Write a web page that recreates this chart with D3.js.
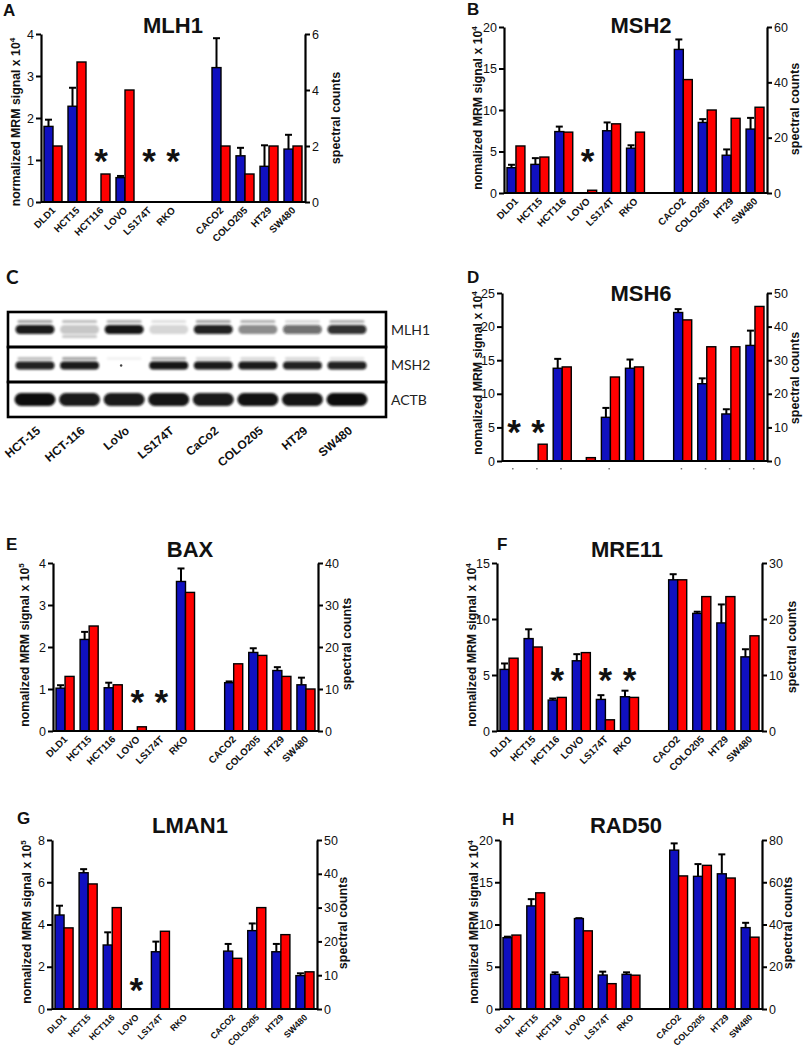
<!DOCTYPE html>
<html><head><meta charset="utf-8">
<script src="https://cdn.jsdelivr.net/npm/d3@7"></script>
<style>body{margin:0;background:#fff}svg{display:block}</style>
</head><body>
<svg id="fig" width="804" height="1050"></svg>
<script>
// ---------- data ----------
const categories = ["DLD1","HCT15","HCT116","LOVO","LS174T","RKO","CACO2","COLO205","HT29","SW480"];
const gapKey = "_gap";
const slots = ["DLD1","HCT15","HCT116","LOVO","LS174T","RKO",gapKey,"CACO2","COLO205","HT29","SW480"];

// MLH1 (A)
const mlh1Mrm    = [1.80, 2.28, 0,    0.58, 0,    0,    3.20, 1.10, 0.85, 1.26];
const mlh1Err    = [1.96, 2.72, null, 0.62, null, null, 3.90, 1.29, 1.35, 1.60];
const mlh1Counts = [2, 5, 1, 4, 0, 0, 2, 1, 2, 2];
const mlh1Stars  = ["HCT116","LS174T","RKO"];
// MSH2 (B)
const msh2Mrm    = [3.05, 3.45, 7.40, 0,    7.50, 5.40, 17.3, 8.50, 4.55, 7.70];
const msh2Err    = [3.40, 4.20, 8.00, null, 8.50, 5.75, 18.5, 8.90, 5.25, 9.05];
const msh2Counts = [17, 13, 22, 1, 25, 22, 41, 30, 27, 31];
const msh2Stars  = ["LOVO"];
// MSH6 (D)
const msh6Mrm    = [0,    0,    13.8, 0,    6.5, 13.8, 22.1, 11.5, 7.0, 17.2];
const msh6Err    = [null, null, 15.2, null, 7.9, 15.1, 22.6, 12.3, 7.7, 19.4];
const msh6Counts = [0, 5, 28, 1, 25, 28, 42, 34, 34, 46];
const msh6Stars  = ["DLD1","HCT15"];
const msh6Marks  = ["DLD1","HCT15","HCT116","LS174T","CACO2","COLO205","HT29","SW480"];
// BAX (E)
const baxMrm     = [1.02, 2.18, 1.03, 0,    0,    3.56, 1.15, 1.87, 1.44, 1.10];
const baxErr     = [1.09, 2.36, 1.15, null, null, 3.87, 1.18, 1.97, 1.52, 1.27];
const baxCounts  = [13, 25, 11, 1, 0, 33, 16, 18, 13, 10];
const baxStars   = ["LOVO","LS174T"];
// MRE11 (F)
const mre11Mrm    = [5.50, 8.25, 2.76, 6.27, 2.82, 3.06, 13.5, 10.5, 9.65, 6.62];
const mre11Err    = [6.03, 9.08, 2.90, 6.86, 3.20, 3.60, 14.0, 10.65, 11.3, 7.30];
const mre11Counts = [13, 15, 6, 14, 2, 6, 27, 24, 24, 17];
const mre11Stars  = ["HCT116","LS174T","RKO"];
// LMAN1 (G)
const lman1Mrm    = [4.45, 6.45, 3.03, 0,    2.71, 0,    2.74, 3.71, 2.71, 1.58];
const lman1Err    = [4.89, 6.62, 3.63, null, 3.19, null, 3.08, 4.05, 3.08, 1.69];
const lman1Counts = [24, 37, 30, 0, 23, 0, 15, 30, 22, 11];
const lman1Stars  = ["LOVO"];
// RAD50 (H)
const rad50Mrm    = [8.44, 12.2, 4.10, 10.7, 4.02, 4.10, 18.8, 15.7, 16.0, 9.63];
const rad50Err    = [8.56, 13.0, 4.34, 10.75, 4.42, 4.34, 19.6, 17.15, 18.3, 10.2];
const rad50Counts = [35, 55, 15, 37, 12, 16, 63, 68, 62, 34];
const rad50Stars  = [];

// Western blot (C)
const blotLanes  = ["HCT-15","HCT-116","LoVo","LS174T","CaCo2","COLO205","HT29","SW480"];
const blotRows   = ["MLH1","MSH2","ACTB"];
const mlh1Band   = [0.95, 0.22, 0.97, 0.16, 0.92, 0.45, 0.6, 0.85];
const mlh1Upper  = [0.35, 0.25, 0.30, 0.12, 0.35, 0.3, 0.15, 0.3];
const mlh1Lower  = [0, 0.22, 0, 0, 0, 0, 0, 0];
const msh2Band   = [0.92, 0.95, 0.0, 0.97, 0.95, 0.95, 0.92, 0.92];
const msh2Upper  = [0.25, 0.35, 0.05, 0.3, 0.15, 0.15, 0.15, 0.1];
const actbBand   = [1.0, 0.95, 0.95, 0.97, 0.95, 0.98, 0.97, 1.0];

// ---------- drawing ----------
const svg = d3.select("#fig");
const FONT = "'Liberation Sans', Arial, sans-serif";
const BLUE = "#1010c0", RED = "#ff0000";

const panels = [
  {tag:"A", title:"MLH1", mrm:mlh1Mrm, err:mlh1Err, counts:mlh1Counts, stars:mlh1Stars, starAt:1.1,
   left:[0,4], lt:[0,1,2,3,4], right:[0,6], rt:[0,2,4,6], exp:"4", word:"normalized",
   x0:41, x1:305, y0:34, y1:202, tx:173, ty:33, lx:3, ly:16, ylx:20, yly:122, rlx:340, rly:118, labels:true, ls:9.8},
  {tag:"B", title:"MSH2", mrm:msh2Mrm, err:msh2Err, counts:msh2Counts, stars:msh2Stars, starAt:4.5,
   left:[0,20], lt:[0,5,10,15,20], right:[0,60], rt:[0,20,40,60], exp:"4", word:"nomalized",
   x0:504, x1:767, y0:27, y1:193, tx:641, ty:33, lx:467, ly:15, ylx:482, yly:108, rlx:799, rly:109, labels:true, ls:9.8},
  {tag:"D", title:"MSH6", mrm:msh6Mrm, err:msh6Err, counts:msh6Counts, stars:msh6Stars, starAt:5,
   left:[0,25], lt:[0,5,10,15,20,25], right:[0,50], rt:[0,10,20,30,40,50], exp:"4", word:"nomalized",
   x0:502, x1:767, y0:293, y1:461, tx:641, ty:301, lx:467, ly:283, ylx:482, yly:373, rlx:799, rly:378, labels:false, marks:msh6Marks},
  {tag:"E", title:"BAX", mrm:baxMrm, err:baxErr, counts:baxCounts, stars:baxStars, starAt:0.82,
   left:[0,4], lt:[0,1,2,3,4], right:[0,40], rt:[0,10,20,30,40], exp:"5", word:"nomalized",
   x0:53, x1:318, y0:563, y1:731, tx:190, ty:557, lx:6, ly:550, ylx:29, yly:645, rlx:351, rly:644, labels:true, ls:9.8},
  {tag:"F", title:"MRE11", mrm:mre11Mrm, err:mre11Err, counts:mre11Counts, stars:mre11Stars, starAt:5,
   left:[0,15], lt:[0,5,10,15], right:[0,30], rt:[0,10,20,30], exp:"4", word:"nomalized",
   x0:497, x1:762, y0:563, y1:731, tx:627, ty:557, lx:497, ly:550, ylx:476, yly:645, rlx:796, rly:647, labels:true, ls:9.8},
  {tag:"G", title:"LMAN1", mrm:lman1Mrm, err:lman1Err, counts:lman1Counts, stars:lman1Stars, starAt:1.14,
   left:[0,8], lt:[0,2,4,6,8], right:[0,50], rt:[0,10,20,30,40,50], exp:"5", word:"nomalized",
   x0:52, x1:317, y0:840, y1:1009, tx:190, ty:833, lx:17, ly:824, ylx:31, yly:922, rlx:347, rly:923, labels:true, ls:8.8},
  {tag:"H", title:"RAD50", mrm:rad50Mrm, err:rad50Err, counts:rad50Counts, stars:rad50Stars, starAt:0,
   left:[0,20], lt:[0,5,10,15,20], right:[0,80], rt:[0,20,40,60,80], exp:"4", word:"nomalized",
   x0:500, x1:762, y0:840, y1:1009, tx:626, ty:833, lx:502, ly:825, ylx:478, yly:922, rlx:792, rly:923, labels:true, ls:8.8}
];

function drawPanel(p) {
  const g = svg.append("g");
  const x = d3.scaleBand().domain(slots).range([p.x0, p.x1]).paddingInner(0.25).paddingOuter(0.125);
  const xs = d3.scaleBand().domain(["mrm","counts"]).range([0, x.bandwidth()]);
  const y = d3.scaleLinear().domain(p.left).range([p.y1, p.y0]);
  const yr = d3.scaleLinear().domain(p.right).range([p.y1, p.y0]);
  const rows = categories.map((c,i)=>({c, m:p.mrm[i], e:p.err[i], n:p.counts[i]}));

  const eb = g.append("g").attr("stroke","#000").attr("stroke-width",2);
  rows.filter(d=>d.m>0 && d.e!=null && d.e>d.m).forEach(d=>{
    const cx = x(d.c) + xs("mrm") + xs.bandwidth()/2;
    eb.append("line").attr("x1",cx).attr("x2",cx).attr("y1",y(d.m)).attr("y2",y(d.e));
    eb.append("line").attr("x1",cx-3.5).attr("x2",cx+3.5).attr("y1",y(d.e)).attr("y2",y(d.e));
  });

  g.append("g").selectAll("rect").data(rows.filter(d=>d.m>0)).join("rect")
    .attr("x",d=>x(d.c)+xs("mrm")).attr("width",xs.bandwidth())
    .attr("y",d=>y(d.m)).attr("height",d=>p.y1-y(d.m))
    .attr("fill",BLUE).attr("stroke","#000").attr("stroke-width",1.4);
  g.append("g").selectAll("rect").data(rows.filter(d=>d.n>0)).join("rect")
    .attr("x",d=>x(d.c)+xs("counts")).attr("width",xs.bandwidth())
    .attr("y",d=>yr(d.n)).attr("height",d=>p.y1-yr(d.n))
    .attr("fill",RED).attr("stroke","#000").attr("stroke-width",1.4);

  const fmt = d3.format("d");
  const ax = g.append("g").attr("transform",`translate(${p.x0},0)`)
    .call(d3.axisLeft(y).tickValues(p.lt).tickFormat(fmt).tickSize(5).tickSizeOuter(0).tickPadding(2));
  const axr = g.append("g").attr("transform",`translate(${p.x1},0)`)
    .call(d3.axisRight(yr).tickValues(p.rt).tickFormat(fmt).tickSize(5).tickSizeOuter(0).tickPadding(2));
  [ax,axr].forEach(a=>{
    a.select(".domain").attr("stroke","#000").attr("stroke-width",2.2);
    a.selectAll(".tick line").attr("stroke","#000").attr("stroke-width",2);
    a.selectAll(".tick text").attr("font-family",FONT).attr("font-size",12.5).attr("fill","#111");
  });
  g.append("line").attr("x1",p.x0).attr("x2",p.x1).attr("y1",p.y1).attr("y2",p.y1)
    .attr("stroke","#000").attr("stroke-width",2.2);

  if (p.labels) {
    g.append("g").selectAll("text").data(categories).join("text")
      .attr("transform",d=>`translate(${x(d)+x.bandwidth()/2+3},${p.y1+9}) rotate(-45)`)
      .attr("text-anchor","end").attr("font-family",FONT).attr("font-weight","bold")
      .attr("font-size",p.ls).attr("fill","#111").text(d=>d);
  }
  if (p.marks) {
    g.append("g").selectAll("rect").data(p.marks).join("rect")
      .attr("x",d=>x(d)+x.bandwidth()/2-2).attr("y",p.y1+7).attr("width",1.5).attr("height",1.5)
      .attr("fill","#777");
  }
  g.append("g").selectAll("text").data(p.stars).join("text")
    .attr("x",d=>x(d)+x.bandwidth()/2).attr("y",y(p.starAt)+17)
    .attr("text-anchor","middle").attr("font-family",FONT).attr("font-weight","bold")
    .attr("font-size",35).attr("fill","#111").text("*");

  g.append("text").attr("x",p.tx).attr("y",p.ty).attr("text-anchor","middle")
    .attr("font-family",FONT).attr("font-weight","bold").attr("font-size",22).attr("fill","#111").text(p.title);
  g.append("text").attr("x",p.lx).attr("y",p.ly).attr("font-family",FONT).attr("font-weight","bold")
    .attr("font-size",17).attr("fill","#111").text(p.tag);
  const yl = g.append("text").attr("transform",`translate(${p.ylx},${p.yly}) rotate(-90)`)
    .attr("text-anchor","middle").attr("font-family",FONT).attr("font-weight","bold")
    .attr("font-size",12.3).attr("fill","#111");
  yl.append("tspan").text(p.word + " MRM signal x 10");
  yl.append("tspan").attr("dy",-5).attr("font-size",8).text(p.exp);
  g.append("text").attr("transform",`translate(${p.rlx},${p.rly}) rotate(-90)`)
    .attr("text-anchor","middle").attr("font-family",FONT).attr("font-weight","bold")
    .attr("font-size",12.5).attr("fill","#111").text("spectral counts");
}
panels.forEach(drawPanel);

const defs = svg.append("defs");
defs.append("clipPath").attr("id","gclip").append("rect").attr("x",371).attr("y",840).attr("width",40).attr("height",150);
svg.append("text").attr("clip-path","url(#gclip)")
  .attr("transform","translate(385,913) rotate(-90)").attr("text-anchor","middle")
  .attr("font-family","Lato, sans-serif").attr("font-size",17).attr("fill","#222").text("spectral Counts");

// ---------- Western blot (C) ----------
const blur = defs.append("filter").attr("id","blur").attr("x","-20%").attr("y","-60%").attr("width","140%").attr("height","220%");
blur.append("feGaussianBlur").attr("stdDeviation",1.1);
const box = {x0:8, x1:386, y0:312, y1:417};
const lane = d3.scalePoint().domain(blotLanes).range([35, 347]);
const rowY = d3.scaleBand().domain(blotRows).range([box.y0, box.y1]).padding(0);
const bandW = 39;
const gb = svg.append("g");
function bands(arr, row, offset, h, wScale) {
  gb.append("g").attr("filter","url(#blur)").selectAll("rect").data(blotLanes.map((l,i)=>({l,v:arr[i]})).filter(d=>d.v>0)).join("rect")
    .attr("x",d=>lane(d.l)-bandW*wScale/2).attr("width",bandW*wScale)
    .attr("y",rowY(row)+rowY.bandwidth()/2+offset-h/2).attr("height",h)
    .attr("rx",h/2).attr("fill","#0d0d0d").attr("opacity",d=>d.v);
}
bands(mlh1Upper,"MLH1",-8,3,0.9);
bands(mlh1Band,"MLH1",0,9,1);
bands(mlh1Lower,"MLH1",7,3,0.9);
bands(msh2Upper,"MSH2",-6,3,0.9);
bands(msh2Band,"MSH2",1,8,1);
bands(actbBand,"ACTB",0,13,1.05);
gb.append("circle").attr("cx",lane("LoVo")-3).attr("cy",rowY("MSH2")+rowY.bandwidth()/2+1).attr("r",1.2).attr("fill","#444");
blotRows.forEach(r=>{
  gb.append("rect").attr("x",box.x0).attr("y",rowY(r)).attr("width",box.x1-box.x0).attr("height",rowY.bandwidth())
    .attr("fill","none").attr("stroke","#000").attr("stroke-width",2.6);
  gb.append("text").attr("x",box.x1+5).attr("y",rowY(r)+rowY.bandwidth()/2+5)
    .attr("font-family","Lato, sans-serif").attr("font-size",14).attr("fill","#222").text(r);
});
gb.append("g").selectAll("text").data(blotLanes).join("text")
  .attr("transform",d=>`translate(${lane(d)+6},${box.y1+15}) rotate(-40)`)
  .attr("text-anchor","end").attr("font-family",FONT).attr("font-weight","bold")
  .attr("font-size",12).attr("fill","#111").text(d=>d);
svg.append("text").attr("x",6).attr("y",284).attr("font-family","Lato, sans-serif").attr("font-weight","bold")
  .attr("font-size",19).attr("fill","#111").text("C");
</script>
</body></html>
